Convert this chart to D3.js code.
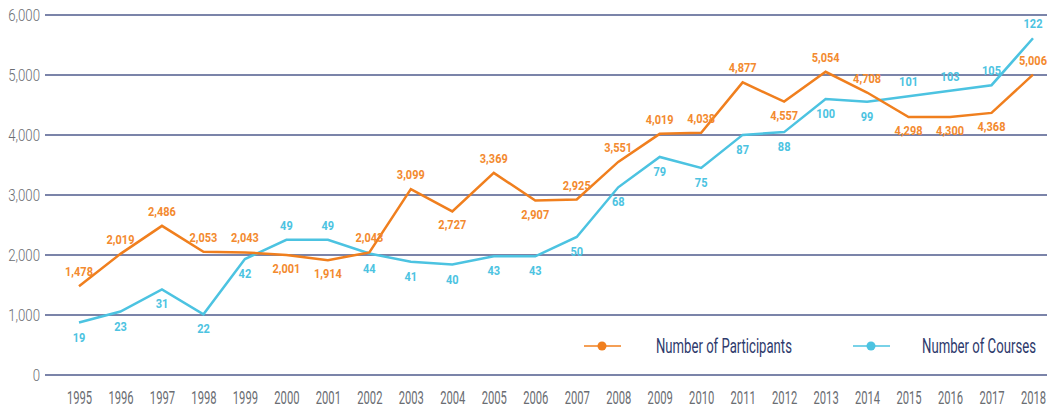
<!DOCTYPE html>
<html><head><meta charset="utf-8">
<script src="https://cdn.jsdelivr.net/npm/d3@7"></script>
<style>
html,body{margin:0;padding:0;background:#fff;}
svg{display:block;}
text{font-family:Roboto,"Liberation Sans",sans-serif;}
</style></head>
<body>
<svg id="chart" width="1047" height="409"></svg>
<script>
const years = [1995,1996,1997,1998,1999,2000,2001,2002,2003,2004,2005,2006,2007,2008,2009,2010,2011,2012,2013,2014,2015,2016,2017,2018];
const participants = [1478,2019,2486,2053,2043,2001,1914,2043,3099,2727,3369,2907,2925,3551,4019,4038,4877,4557,5054,4708,4298,4300,4368,5006];
const courses = [19,23,31,22,42,49,49,44,41,40,43,43,50,68,79,75,87,88,100,99,101,103,105,122];
const yTicks = [0,1000,2000,3000,4000,5000,6000];
const seriesNames = ["Number of Participants","Number of Courses"];

const orange = "#f07f1e", orangeText = "#f38a2f", cyan = "#4cc3e1", navy = "#2e3a6c", grid = "#4f5b8c", tickCol = "#6a6d72";

const svg = d3.select("#chart");
const x = d3.scalePoint().domain(years).range([79, 1033]);
const y = d3.scaleLinear().domain([0, 6000]).range([375, 15]);
const y2 = d3.scaleLinear().domain([0, 6000/46]).range([375, 15]);

// gridlines
svg.append("g").selectAll("line").data(yTicks).join("line")
  .attr("x1", 45).attr("x2", 1047)
  .attr("y1", d => y(d)).attr("y2", d => y(d))
  .attr("stroke", grid).attr("stroke-width", 1.5);

// y labels
const yAxis = d3.axisLeft(y).tickValues(yTicks).tickFormat(d3.format(",")).tickSize(0).tickPadding(0);
const gy = svg.append("g").attr("transform", "translate(40,0)").call(yAxis);
gy.select(".domain").remove();
gy.selectAll("text").attr("fill", tickCol).attr("x", 0).attr("dy", "0.36em")
  .style("font-size", "16.5px").style("font-weight", "300")
  .attr("transform", "scale(0.8,1)");

// x labels
const xAxis = d3.axisBottom(x).tickSize(0).tickPadding(0).tickFormat(d3.format("d"));
const gx = svg.append("g").attr("transform", "translate(0,398)").call(xAxis);
gx.select(".domain").remove();
gx.selectAll("text").attr("fill", tickCol).attr("y", 0).attr("dy", "0.36em")
  .style("font-size", "17.5px").style("font-weight", "400")
  .attr("transform", "scale(0.64,1)");

const line1 = d3.line().x((d,i) => x(years[i])).y(d => y(d));
const line2 = d3.line().x((d,i) => x(years[i])).y(d => y2(d));

svg.append("path").datum(courses).attr("d", line2).attr("fill","none")
  .attr("stroke", cyan).attr("stroke-width", 2.5).attr("stroke-linejoin","miter");
svg.append("path").datum(participants).attr("d", line1).attr("fill","none")
  .attr("stroke", orange).attr("stroke-width", 2.5).attr("stroke-linejoin","miter");

// label side logic
const last = participants.length - 1;
const cyanAbove = i => y2(courses[i]) < y(participants[i]);
const localMin = i => i > 0 && i < last && participants[i] < participants[i-1] && participants[i] < participants[i+1];
const orangeBelow = i => (cyanAbove(i) && i < last) || localMin(i);
const fmt = d3.format(",");

svg.append("g").selectAll("g").data(participants).join("g")
  .attr("transform", (d,i) => `translate(${x(years[i])},${orangeBelow(i) ? y(d) + 18 : y(d) - 10})`)
  .append("text")
  .attr("text-anchor","middle").attr("fill", orangeText)
  .style("font-size","12.5px").style("font-weight","bold")
  .attr("transform", "scale(0.88,1)")
  .text(d => fmt(d));

svg.append("g").selectAll("g").data(courses).join("g")
  .attr("transform", (d,i) => `translate(${x(years[i])},${cyanAbove(i) ? y2(d) - 10 : y2(d) + 19})`)
  .append("text")
  .attr("text-anchor","middle").attr("fill", cyan)
  .style("font-size","12.5px").style("font-weight","bold")
  .attr("transform", "scale(0.88,1)")
  .text(d => d);

// legend
const legend = [{name: seriesNames[0], color: orange, lx: 584, tx: 656, w: 136},
                {name: seriesNames[1], color: cyan, lx: 853, tx: 922, w: 114}];
const lg = svg.append("g").selectAll("g").data(legend).join("g");
lg.append("line").attr("x1", d => d.lx).attr("x2", d => d.lx + 37)
  .attr("y1", 346).attr("y2", 346).attr("stroke", d => d.color).attr("stroke-width", 1.5);
lg.append("circle").attr("cx", d => d.lx + 18).attr("cy", 346).attr("r", 4.5).attr("fill", d => d.color);
lg.append("g").attr("transform", d => `translate(${d.tx},346)`)
  .append("text").attr("x", 0).attr("y", 0).attr("dy","0.36em")
  .attr("fill", navy).style("font-size","20px")
  .text(d => d.name)
  .each(function(d) {
    const len = this.getComputedTextLength();
    d3.select(this).attr("transform", `scale(${d.w/len},1)`);
  });
</script>
</body></html>
